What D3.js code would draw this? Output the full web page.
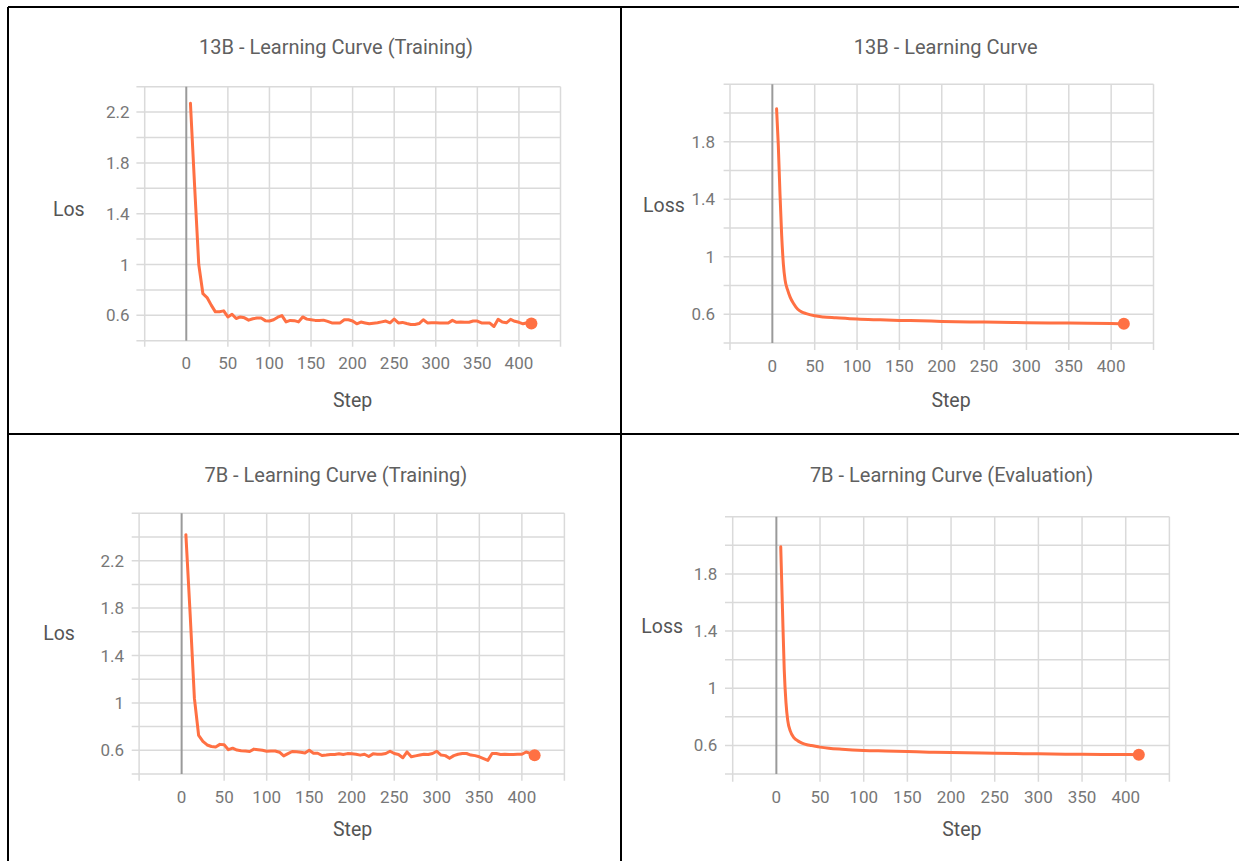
<!DOCTYPE html>
<html>
<head>
<meta charset="utf-8">
<script src="https://cdn.jsdelivr.net/npm/d3@7"></script>
<style>
  html, body { margin: 0; padding: 0; background: #fff; }
  svg { display: block; }
  text { font-family: Roboto, "Noto Sans", sans-serif; }
</style>
</head>
<body>
<svg id="chart" width="1239" height="861"></svg>
<script>
// ---------------- DATA ----------------
const titles = [
  "13B - Learning Curve (Training)",
  "13B - Learning Curve",
  "7B - Learning Curve (Training)",
  "7B - Learning Curve (Evaluation)"
];
const yAxisTitles = ["Los", "Loss", "Los", "Loss"];
const xAxisTitle = "Step";
const xTickLabels = [0, 50, 100, 150, 200, 250, 300, 350, 400];
const yTickLabelsTall = [0.6, 1, 1.4, 1.8, 2.2];
const yTickLabelsShort = [0.6, 1, 1.4, 1.8];

const trainSteps = [
  5, 10, 15, 20, 25, 30, 35, 40, 45, 50,
  55, 60, 65, 70, 75, 80, 85, 90, 95, 100,
  105, 110, 115, 120, 125, 130, 135, 140, 145, 150,
  155, 160, 165, 170, 175, 180, 185, 190, 195, 200,
  205, 210, 215, 220, 225, 230, 235, 240, 245, 250,
  255, 260, 265, 270, 275, 280, 285, 290, 295, 300,
  305, 310, 315, 320, 325, 330, 335, 340, 345, 350,
  355, 360, 365, 370, 375, 380, 385, 390, 395, 400,
  405, 410, 415
];
const lossTrain13B = [
  2.27, 1.62, 1.0, 0.77, 0.74, 0.68, 0.627, 0.628, 0.635, 0.587,
  0.608, 0.575, 0.587, 0.58, 0.562, 0.573, 0.578, 0.578, 0.558, 0.555,
  0.565, 0.585, 0.598, 0.548, 0.56, 0.558, 0.548, 0.587, 0.57, 0.565,
  0.56, 0.56, 0.562, 0.552, 0.54, 0.54, 0.54, 0.565, 0.565, 0.555,
  0.533, 0.547, 0.54, 0.533, 0.538, 0.541, 0.548, 0.555, 0.541, 0.571,
  0.54, 0.544, 0.535, 0.528, 0.528, 0.535, 0.565, 0.54, 0.541, 0.541,
  0.54, 0.539, 0.539, 0.56, 0.545, 0.548, 0.545, 0.545, 0.555, 0.555,
  0.54, 0.539, 0.539, 0.512, 0.568, 0.547, 0.541, 0.568, 0.553, 0.545,
  0.533, 0.541, 0.536
];
const lossTrain7B = [
  2.42, 1.75, 1.04, 0.725, 0.675, 0.645, 0.632, 0.627, 0.65, 0.647,
  0.605, 0.618, 0.602, 0.597, 0.594, 0.59, 0.61, 0.605, 0.6, 0.592,
  0.594, 0.594, 0.584, 0.553, 0.572, 0.59, 0.588, 0.583, 0.578, 0.6,
  0.575, 0.575, 0.556, 0.56, 0.565, 0.565, 0.57, 0.565, 0.572, 0.57,
  0.567, 0.559, 0.567, 0.548, 0.57, 0.567, 0.567, 0.573, 0.592, 0.573,
  0.564, 0.537, 0.586, 0.545, 0.553, 0.56, 0.567, 0.564, 0.573, 0.592,
  0.56, 0.555, 0.532, 0.555, 0.567, 0.573, 0.573, 0.56, 0.555, 0.545,
  0.53, 0.515, 0.573, 0.573, 0.564, 0.567, 0.564, 0.565, 0.567, 0.567,
  0.586, 0.573, 0.559
];

const evalSteps13B = [5, 7, 9, 11, 13, 15, 18, 21, 25, 30, 35, 40, 50, 60, 75, 100, 125, 150, 175, 200, 250, 300, 350, 400, 415];
const lossEval13B  = [2.03, 1.78, 1.44, 1.15, 0.95, 0.84, 0.77, 0.72, 0.675, 0.635, 0.615, 0.605, 0.59, 0.582, 0.576, 0.567, 0.562, 0.558, 0.555, 0.551, 0.546, 0.542, 0.539, 0.536, 0.535];

const evalSteps7B = [5, 7, 9, 11, 13, 16, 20, 25, 30, 35, 40, 50, 60, 75, 100, 125, 150, 175, 200, 250, 300, 350, 400, 415];
const lossEval7B  = [1.99, 1.55, 1.13, 0.9, 0.775, 0.7, 0.655, 0.63, 0.615, 0.605, 0.6, 0.588, 0.58, 0.573, 0.565, 0.561, 0.557, 0.553, 0.55, 0.545, 0.541, 0.538, 0.536, 0.535];

// ---------------- LAYOUT ----------------
const panels = [
  { steps: trainSteps, loss: lossTrain13B, yLabels: yTickLabelsTall, yDom: [0.4, 2.4],
    x0: 144.7, x1: 560.5, yTop: 86.7, yBot: 340.7, hStart: 136.4, vBot: 346.7,
    yLabelX: 129.6, xLabelY: 362.7, axX: 68.8, axY: 209, stepX: 352.6, stepY: 400,
    tX: 336, tY: 46.7 },
  { steps: evalSteps13B, loss: lossEval13B, yLabels: yTickLabelsShort, yDom: [0.4, 2.2],
    x0: 730, x1: 1153.5, yTop: 84.3, yBot: 343.1, hStart: 723.6, vBot: 350,
    yLabelX: 715, xLabelY: 366, axX: 664, axY: 205, stepX: 951, stepY: 400,
    tX: 945.7, tY: 46.7 },
  { steps: trainSteps, loss: lossTrain7B, yLabels: yTickLabelsTall, yDom: [0.4, 2.6],
    x0: 139.1, x1: 564.4, yTop: 513.3, yBot: 774, hStart: 131.7, vBot: 780.7,
    yLabelX: 124, xLabelY: 796.7, axX: 59, axY: 633.3, stepX: 352.6, stepY: 829.3,
    tX: 335.8, tY: 475 },
  { steps: evalSteps7B, loss: lossEval7B, yLabels: yTickLabelsShort, yDom: [0.4, 2.2],
    x0: 732.7, x1: 1169.4, yTop: 516.7, yBot: 774, hStart: 725, vBot: 781.7,
    yLabelX: 717.3, xLabelY: 796.7, axX: 662.2, axY: 626, stepX: 961.9, stepY: 829.3,
    tX: 951.6, tY: 475 }
];

const svg = d3.select("#chart");
const LINE = "#ff7043";

panels.forEach((p, i) => {
  const g = svg.append("g");
  const x = d3.scaleLinear().domain([-50, 450]).range([p.x0, p.x1]);
  const y = d3.scaleLinear().domain(p.yDom).range([p.yBot, p.yTop]);

  // horizontal gridlines every 0.2
  const yGrid = y.ticks(10);
  g.selectAll(".hg").data(yGrid).join("line")
    .attr("x1", p.hStart).attr("x2", p.x1)
    .attr("y1", d => y(d)).attr("y2", d => y(d))
    .attr("stroke", "#dadada").attr("stroke-width", 1.5);

  // vertical gridlines every 50 (-50..450)
  const xGrid = x.ticks(10);
  g.selectAll(".vg").data(xGrid.filter(d => d !== 0)).join("line")
    .attr("x1", d => x(d)).attr("x2", d => x(d))
    .attr("y1", p.yTop).attr("y2", p.vBot)
    .attr("stroke", "#dadada").attr("stroke-width", 1.5);

  // zero line
  g.append("line")
    .attr("x1", x(0)).attr("x2", x(0))
    .attr("y1", p.yTop).attr("y2", p.yBot)
    .attr("stroke", "#9a9a9a").attr("stroke-width", 2);

  // y tick labels
  g.selectAll(".yl").data(p.yLabels).join("text")
    .attr("x", p.yLabelX).attr("y", d => y(d))
    .attr("text-anchor", "end").attr("dominant-baseline", "central")
    .attr("font-size", 17).attr("fill", "#777")
    .text(d => d3.format("~g")(d));

  // x tick labels
  g.selectAll(".xl").data(xTickLabels).join("text")
    .attr("x", d => x(d)).attr("y", p.xLabelY)
    .attr("text-anchor", "middle").attr("dominant-baseline", "central")
    .attr("font-size", 17).attr("fill", "#777")
    .text(d => d);

  // line
  const pts = p.steps.map((s, k) => [s, p.loss[k]]);
  const line = d3.line().x(d => x(d[0])).y(d => y(d[1]));
  if (i === 1 || i === 3) line.curve(d3.curveMonotoneX);
  g.append("path").datum(pts)
    .attr("d", line)
    .attr("fill", "none").attr("stroke", LINE)
    .attr("stroke-width", 3).attr("stroke-linejoin", "round").attr("stroke-linecap", "round");

  const last = pts[pts.length - 1];
  g.append("circle")
    .attr("cx", x(last[0])).attr("cy", y(last[1])).attr("r", 6)
    .attr("fill", LINE);

  // axis titles
  g.append("text")
    .attr("x", p.axX).attr("y", p.axY)
    .attr("text-anchor", "middle").attr("dominant-baseline", "central")
    .attr("font-size", 19.5).attr("fill", "#555")
    .text(yAxisTitles[i]);
  g.append("text")
    .attr("x", p.stepX).attr("y", p.stepY)
    .attr("text-anchor", "middle").attr("dominant-baseline", "central")
    .attr("font-size", 19.5).attr("fill", "#555")
    .text(xAxisTitle);

  // title
  g.append("text")
    .attr("x", p.tX).attr("y", p.tY)
    .attr("text-anchor", "middle").attr("dominant-baseline", "central")
    .attr("font-size", 20).attr("fill", "#606060")
    .text(titles[i]);
});

// table borders
const borders = [
  [8, 7, 1239, 7],
  [8, 434, 1239, 434],
  [8, 7, 8, 861],
  [621, 7, 621, 861]
];
svg.selectAll(".border").data(borders).join("line")
  .attr("x1", d => d[0]).attr("y1", d => d[1])
  .attr("x2", d => d[2]).attr("y2", d => d[3])
  .attr("stroke", "#000").attr("stroke-width", 2);
</script>
</body>
</html>
